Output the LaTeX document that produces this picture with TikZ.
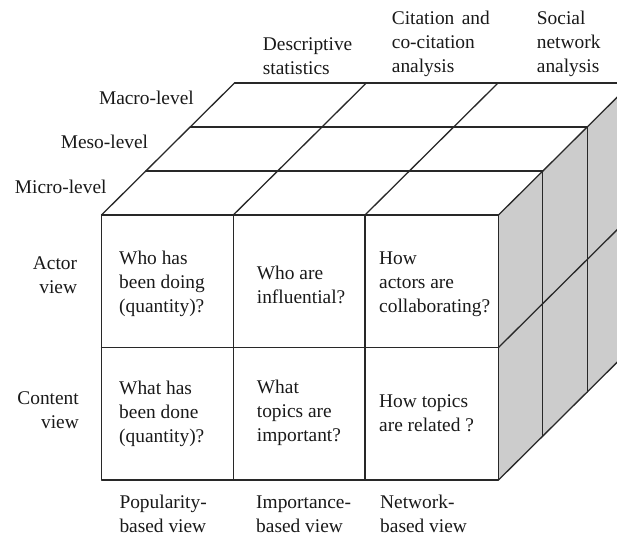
\documentclass[tikz,border=0pt]{standalone}
\usepackage{fontspec}
\setmainfont{Liberation Serif}
\definecolor{sidegray}{RGB}{204,204,204}
\definecolor{edgecol}{RGB}{40,40,40}
\definecolor{ink}{RGB}{25,25,25}
\begin{document}
\begin{tikzpicture}[x=1pt,y=-1pt,
  edgeline/.style={draw=edgecol,line width=1.3pt,line join=round,line cap=round},
  lbl/.style={inner sep=0pt,font=\fontsize{19.4}{24}\selectfont,text=ink},
  lft/.style={lbl,anchor=west,align=left},
  rgt/.style={lbl,anchor=east,align=right}]
\useasboundingbox (0,0) rectangle (617,540);
\clip (0,0) rectangle (617,540);
% front corners
\coordinate (F0t) at (101.5,215);
\coordinate (F1t) at (233.3,215);
\coordinate (F2t) at (365,215);
\coordinate (F3t) at (498.5,215);
\coordinate (F0m) at (101.5,347.5);
\coordinate (F3m) at (498.5,347.5);
\coordinate (F0b) at (101.5,480);
\coordinate (F1b) at (233.3,480);
\coordinate (F2b) at (365,480);
\coordinate (F3b) at (498.5,480);
% right side face
\fill[sidegray] (F3t) -- ++(133,-132) -- ++(0,265) -- (F3b) -- cycle;
% top face horizontals
\foreach \k in {0,1,2,3}
  \draw[edgeline] ({101.5+44.33*\k},{215-44*\k}) -- ++(397,0);
% top face diagonals
\foreach \c in {F0t,F1t,F2t,F3t}
  \draw[edgeline] (\c) -- ++(133,-132);
% front face
\draw[edgeline] (F0t) rectangle (F3b);
\draw[edgeline] (F1t) -- (F1b);
\draw[edgeline] (F2t) -- (F2b);
\draw[edgeline] (F0m) -- (F3m);
% right face
\foreach \k in {1,2,3}
  \draw[edgeline] ({498.5+44.33*\k},{215-44*\k}) -- ++(0,265);
\draw[edgeline] (F3m) -- ++(133,-132);
\draw[edgeline] (F3b) -- ++(133,-132);
% column headings
\node[lft] (desc) at (262.7,56) {Descriptive\\statistics};
\node[lft] (cit) at (391.7,44) {Citation\hspace{0.38em}and\\co-citation\\analysis};
\node[lft] (soc) at (536.7,44) {Social\\network\\analysis};
% level labels
\node[rgt] (macro) at (194,98.3) {Macro-level};
\node[rgt] (meso) at (148.3,141.7) {Meso-level};
\node[rgt] (micro) at (106.7,186.7) {Micro-level};
% row labels
\node[rgt] (actor) at (77.3,275) {Actor\\view};
\node[rgt] (content) at (79,410.5) {Content\\view};
% cells
\node[lft] (q11) at (119,284) {Who has\\been doing\\(quantity)?};
\node[lft] (q12) at (256.7,284.5) {Who are\\influential?};
\node[lft] (q13) at (379,284) {How\\actors are\\collaborating?};
\node[lft] (q21) at (119,413.5) {What has\\been done\\(quantity)?};
\node[lft] (q22) at (256.7,413) {What\\topics are\\important?};
\node[lft] (q23) at (379,413.5) {How topics\\are related ?};
% bottom labels
\node[lft] (pop) at (119.3,514) {Popularity-\\based view};
\node[lft] (imp) at (256,514) {Importance-\\based view};
\node[lft] (net) at (380,514) {Network-\\based view};
\end{tikzpicture}
\end{document}
